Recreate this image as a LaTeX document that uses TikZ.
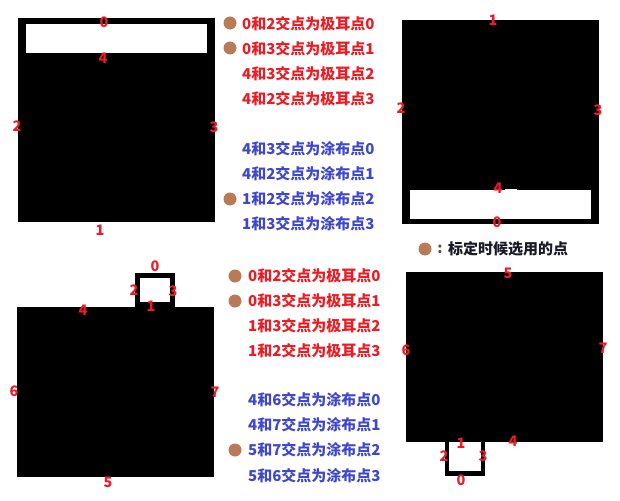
\documentclass[tikz,border=0pt]{standalone}
\usepackage{fontspec}
\setmainfont{Noto Sans CJK SC}
\definecolor{tred}{RGB}{237,28,36}
\definecolor{tblue}{RGB}{63,72,204}
\definecolor{tbrown}{RGB}{185,122,87}
\definecolor{tdark}{RGB}{25,25,40}
\tikzset{
  lbl/.style={text=tred,font=\fontsize{14.5}{14.5}\selectfont\bfseries,inner sep=0pt},
  redline/.style={text=tred,font=\fontsize{15}{15}\selectfont\bfseries,inner sep=0pt,anchor=west},
  blueline/.style={text=tblue,font=\fontsize{15}{15}\selectfont\bfseries,inner sep=0pt,anchor=west},
  dot/.style={fill=tbrown},
}
\begin{document}
\begin{tikzpicture}[x=1pt,y=-1pt]
\useasboundingbox (0,0) rectangle (620,500);
\fill[white] (0,0) rectangle (620,500);
% ---------- panel 1 (top-left)
\fill[black] (18,18) rectangle (215,222);
\fill[white] (26,24) rectangle (207,53);
\node[lbl] (p1n0) at (104,22) {0};
\node[lbl] (p1n4) at (103,58) {4};
\node[lbl] (p1n2) at (17,126) {2};
\node[lbl] (p1n3) at (214,127) {3};
\node[lbl] (p1n1) at (100,230) {1};
% ---------- panel 3 (top-right)
\fill[black] (402,20) rectangle (599,224);
\fill[white] (410,190) rectangle (591,219);
\fill[white] (505,188.5) rectangle (517,190);
\node[lbl] (p3n1) at (493,20) {1};
\node[lbl] (p3n2) at (401,108) {2};
\node[lbl] (p3n3) at (598,110) {3};
\node[lbl] (p3n4) at (498,188) {4};
\node[lbl] (p3n0) at (497,222) {0};
% ---------- panel 2 (bottom-left)
\fill[black] (17,307) rectangle (214,477);
\fill[black] (135,273) rectangle (175,307);
\fill[white] (140,278) rectangle (170,302);
\node[lbl] (p2n0) at (155,266) {0};
\node[lbl] (p2n2) at (134,290) {2};
\node[lbl] (p2n3) at (173,291) {3};
\node[lbl] (p2n1) at (151,306) {1};
\node[lbl] (p2n4) at (83,310) {4};
\node[lbl] (p2n6) at (14,391) {6};
\node[lbl] (p2n7) at (215,392) {7};
\node[lbl] (p2n5) at (108,482) {5};
% ---------- panel 4 (bottom-right)
\fill[black] (406,272) rectangle (603,442);
\fill[black] (445,442) rectangle (485,476);
\fill[white] (449,442) rectangle (481,471);
\node[lbl] (p4n5) at (508,273) {5};
\node[lbl] (p4n6) at (406,350) {6};
\node[lbl] (p4n7) at (603,348) {7};
\node[lbl] (p4n4) at (513,441) {4};
\node[lbl] (p4n1) at (461,443) {1};
\node[lbl] (p4n2) at (444,456) {2};
\node[lbl] (p4n3) at (483,456) {3};
\node[lbl] (p4n0) at (461,480) {0};
% ---------- text top
\fill[dot] (230,23) circle (6.5);
\fill[dot] (230,48) circle (6.5);
\fill[dot] (230,199) circle (6.5);
\node[redline] (ta0) at (242,23.3) {0和2交点为极耳点0};
\node[redline] (ta1) at (242,48.3) {0和3交点为极耳点1};
\node[redline] (ta2) at (242,74) {4和3交点为极耳点2};
\node[redline] (ta3) at (242,99) {4和2交点为极耳点3};
\node[blueline] (tb0) at (242,148.3) {4和3交点为涂布点0};
\node[blueline] (tb1) at (242,173.3) {4和2交点为涂布点1};
\node[blueline] (tb2) at (242,199) {1和2交点为涂布点2};
\node[blueline] (tb3) at (242,223.3) {1和3交点为涂布点3};
% ---------- text bottom
\fill[dot] (235,276) circle (6.5);
\fill[dot] (235,301) circle (6.5);
\fill[dot] (235,450) circle (6.5);
\node[redline] (ba0) at (248,276) {0和2交点为极耳点0};
\node[redline] (ba1) at (248,301) {0和3交点为极耳点1};
\node[redline] (ba2) at (248,326) {1和3交点为极耳点2};
\node[redline] (ba3) at (248,350.7) {1和2交点为极耳点3};
\node[blueline] (bb0) at (248,400) {4和6交点为涂布点0};
\node[blueline] (bb1) at (248,425) {4和7交点为涂布点1};
\node[blueline] (bb2) at (248,450) {5和7交点为涂布点2};
\node[blueline] (bb3) at (248,476) {5和6交点为涂布点3};
% ---------- legend
\fill[dot] (425,249) circle (6.5);
\node[text=tbrown!60!black,font=\fontsize{15}{15}\selectfont\bfseries,inner sep=0pt] (lgc) at (440,249) {:};
\node[text=tdark,font=\fontsize{15}{15}\selectfont\bfseries,inner sep=0pt,anchor=west] (lgt) at (448,249) {标定时候选用的点};
\end{tikzpicture}
\end{document}
